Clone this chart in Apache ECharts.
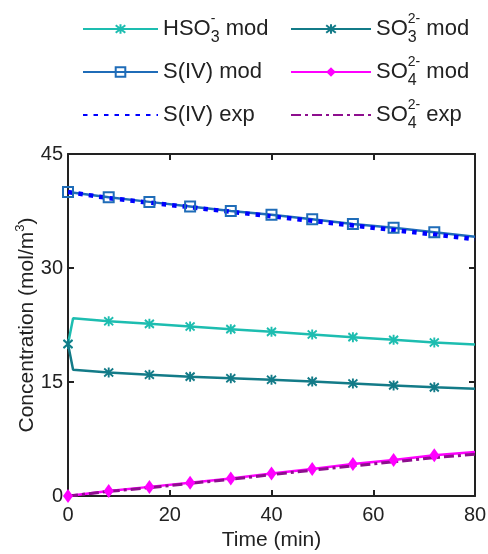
<!DOCTYPE html>
<html>
<head>
<meta charset="utf-8">
<script src="https://cdn.jsdelivr.net/npm/echarts@6/dist/echarts.min.js"></script>
<style>
  html, body { margin: 0; padding: 0; background: #fff; }
  #chart { width: 488px; height: 554px; }
</style>
</head>
<body>
<div id="chart"></div>
<script>
// model output: initial point, the jump right after mixing, then every 8 min
const modTime = [0, 1, 8, 16, 24, 32, 40, 48, 56, 64, 72, 80];
const hso3Mod = [20, 23.4, 23.0, 22.65, 22.3, 21.95, 21.6, 21.25, 20.9, 20.55, 20.2, 19.95];
const so3Mod = [20, 16.6, 16.25, 15.95, 15.7, 15.5, 15.3, 15.05, 14.8, 14.55, 14.3, 14.1];

const sampleTime = [0, 8, 16, 24, 32, 40, 48, 56, 64, 72, 80];
const sivMod = [40, 39.3, 38.7, 38.1, 37.5, 37.0, 36.4, 35.8, 35.3, 34.7, 34.1];
const sivExp = [40, 39.2, 38.6, 38.0, 37.4, 36.8, 36.2, 35.6, 35.0, 34.4, 33.8];
const so4Mod = [0, 0.65, 1.2, 1.75, 2.3, 2.95, 3.55, 4.2, 4.75, 5.35, 5.8];
const so4Exp = [0, 0.6, 1.1, 1.65, 2.2, 2.8, 3.4, 3.95, 4.5, 5.05, 5.5];

const xTicks = [0, 20, 40, 60, 80];
const yTicks = [0, 15, 30, 45];

const font = 'Liberation Sans, Arial, sans-serif';
const ink = '#222';
const star = 'path://M0,-5L0,5M-4,-4L4,4M-4,4L4,-4';

// markers only on the 8-minute points, not at the end
function withMarkers(times, values) {
  return times.map(function (t, i) {
    const item = {value: [t, values[i]]};
    if (t % 8 !== 0 || t === 80) item.symbol = 'none';
    return item;
  });
}

const labels = {
  'HSO3- mod': 'HSO{supz|-}{sub|3} mod',
  'SO3 2- mod': 'SO{subz|3}{sup|2-} mod',
  'S(IV) mod': 'S(IV) mod',
  'SO4 2- mod': 'SO{subz|4}{sup|2-} mod',
  'S(IV) exp': 'S(IV) exp',
  'SO4 2- exp': 'SO{subz|4}{sup|2-} exp'
};

const legendText = {
  fontFamily: font,
  fontSize: 22,
  lineHeight: 34,
  color: ink,
  rich: {
    sup: {fontFamily: font, color: ink, fontSize: 14, lineHeight: 15, verticalAlign: 'top'},
    supz: {fontFamily: font, color: ink, fontSize: 14, lineHeight: 15, verticalAlign: 'top', width: 0.01, align: 'left'},
    sub: {fontFamily: font, color: ink, fontSize: 16, lineHeight: 13, verticalAlign: 'bottom'},
    subz: {fontFamily: font, color: ink, fontSize: 16, lineHeight: 13, verticalAlign: 'bottom', width: 0.01, align: 'left'}
  }
};
const hidden = {color: 'transparent', borderColor: 'transparent', opacity: 0};

const chart = echarts.init(document.getElementById('chart'));

const axisLine = {show: true, onZero: false, lineStyle: {color: ink, width: 2}};
const axisTick = {show: true, inside: true, length: 6, lineStyle: {color: ink, width: 2}};

chart.setOption({
  animation: false,
  backgroundColor: '#fff',
  legend: [
    {
      orient: 'vertical',
      left: 77,
      top: 7,
      itemWidth: 75,
      itemHeight: 12,
      itemGap: 9,
      formatter: function (name) { return labels[name]; },
      textStyle: legendText,
      data: ['HSO3- mod', 'S(IV) mod', {name: 'S(IV) exp', itemStyle: hidden}]
    },
    {
      orient: 'vertical',
      left: 285,
      top: 7,
      itemWidth: 80,
      itemHeight: 12,
      itemGap: 9,
      formatter: function (name) { return labels[name]; },
      textStyle: legendText,
      data: ['SO3 2- mod', 'SO4 2- mod', {name: 'SO4 2- exp', itemStyle: hidden}]
    }
  ],
  grid: {left: 68, right: 13, top: 154, bottom: 58, outerBoundsMode: 'none'},
  xAxis: [
    {
      type: 'value', min: xTicks[0], max: xTicks[xTicks.length - 1], interval: 20,
      axisLine: axisLine, axisTick: axisTick, splitLine: {show: false},
      axisLabel: {fontFamily: font, fontSize: 20, color: ink, margin: 9},
      name: 'Time (min)', nameLocation: 'middle', nameGap: 33,
      nameTextStyle: {fontFamily: font, fontSize: 21, color: ink}
    },
    {
      type: 'value', position: 'top', min: xTicks[0], max: xTicks[xTicks.length - 1], interval: 20,
      axisLine: axisLine, axisTick: axisTick, splitLine: {show: false}, axisLabel: {show: false}
    }
  ],
  yAxis: [
    {
      type: 'value', min: yTicks[0], max: yTicks[yTicks.length - 1], interval: 15,
      axisLine: axisLine, axisTick: axisTick, splitLine: {show: false},
      axisLabel: {fontFamily: font, fontSize: 20, color: ink, margin: 5},
      name: 'Concentration (mol/m{sup|3})', nameLocation: 'middle', nameGap: 28,
      nameMoveOverlap: false,
      nameTextStyle: {
        fontFamily: font, fontSize: 21, color: ink, lineHeight: 26,
        rich: {sup: {fontFamily: font, color: ink, fontSize: 13, lineHeight: 12, verticalAlign: 'top'}}
      }
    },
    {
      type: 'value', position: 'right', min: yTicks[0], max: yTicks[yTicks.length - 1], interval: 15,
      axisLine: axisLine, axisTick: axisTick, splitLine: {show: false}, axisLabel: {show: false}
    }
  ],
  series: [
    {
      name: 'HSO3- mod', type: 'line', data: withMarkers(modTime, hso3Mod),
      symbol: star, symbolSize: [9, 10],
      lineStyle: {color: '#1dbdb0', width: 2.5},
      itemStyle: {color: '#1dbdb0', borderColor: '#1dbdb0', borderWidth: 2}
    },
    {
      name: 'SO3 2- mod', type: 'line', data: withMarkers(modTime, so3Mod),
      symbol: star, symbolSize: [9, 10],
      lineStyle: {color: '#137b88', width: 2.5},
      itemStyle: {color: '#137b88', borderColor: '#137b88', borderWidth: 2}
    },
    {
      name: 'S(IV) mod', type: 'line', data: withMarkers(sampleTime, sivMod),
      symbol: 'rect', symbolSize: 10,
      lineStyle: {color: '#1f6cb8', width: 2.5},
      itemStyle: {color: 'transparent', borderColor: '#1f6cb8', borderWidth: 2}
    },
    {
      name: 'SO4 2- mod', type: 'line', data: withMarkers(sampleTime, so4Mod),
      symbol: 'diamond', symbolSize: [10, 14],
      lineStyle: {color: '#ff00ff', width: 2.5},
      itemStyle: {color: '#ff00ff'}
    },
    {
      name: 'S(IV) exp', type: 'line', symbol: 'none',
      data: sampleTime.map(function (t, i) { return [t, sivExp[i]]; }),
      lineStyle: {color: '#0000ff', width: 4.5, type: [4.5, 6]},
      itemStyle: {color: '#0000ff'}
    },
    {
      name: 'SO4 2- exp', type: 'line', symbol: 'none',
      data: sampleTime.map(function (t, i) { return [t, so4Exp[i]]; }),
      lineStyle: {color: '#8e0e8e', width: 3, type: [10, 4, 3, 4]},
      itemStyle: {color: '#8e0e8e'}
    }
  ]
});
</script>
</body>
</html>
